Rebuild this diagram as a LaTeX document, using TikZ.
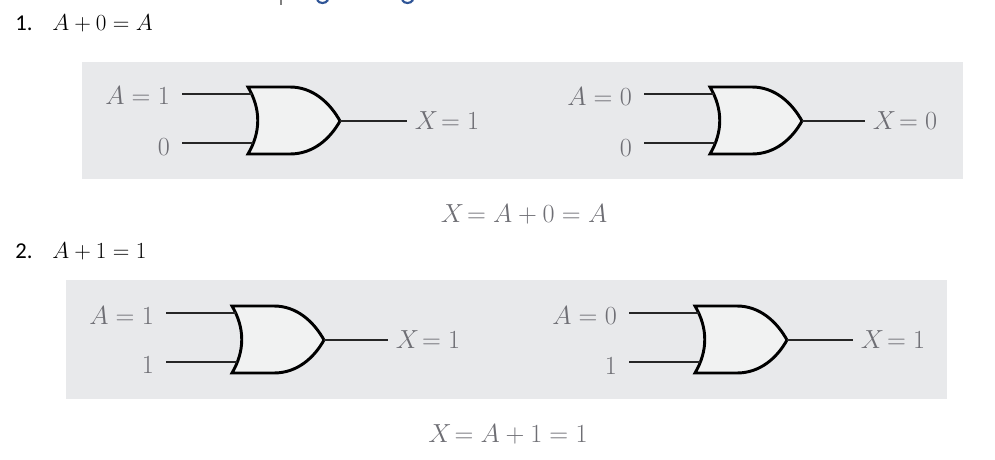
\documentclass[tikz,border=0pt]{standalone}
\usepackage{fontspec}
\setsansfont{Carlito}
\definecolor{panelgray}{HTML}{E8E9EB}
\definecolor{gatefill}{HTML}{F1F2F2}
\definecolor{labelgray}{HTML}{6E6E74}
\definecolor{wordblue}{HTML}{2F5597}
\tikzset{
  panel/.style={fill=panelgray,draw=none},
  lbl/.style={text=labelgray,font=\fontsize{20}{22}\selectfont,scale=.945,inner ysep=0pt,inner xsep=9.5pt},
  lblout/.style={lbl,inner xsep=6pt,anchor=west},
  heading/.style={text=black,font=\fontsize{16.5}{20}\selectfont,inner sep=0pt,anchor=base west},
  wire/.style={draw=black!85,line width=.85pt},
  orgate/.pic={
    \coordinate (in1) at (4,-27);
    \coordinate (in2) at (5,22);
    \coordinate (out) at (92,0);
    \draw[line width=2.2pt,fill=gatefill,line join=miter]
      (0,-34) -- (42,-34) .. controls (65,-34) and (82,-18) .. (92,0)
      .. controls (82,18) and (65,33) .. (42,33) -- (0,33)
      .. controls (13,11) and (13,-12) .. (0,-34) -- cycle;
  }
}
\begin{document}
\begin{tikzpicture}[x=.75pt,y=-.75pt]
  \useasboundingbox (0,0) rectangle (995,460);
  % bits of the line above
  \draw[gray,line width=.8pt] (281,0) -- (281,5);
  \draw[wordblue,line width=1.6pt] (317,0) .. controls (319,4) and (326,4) .. (328,0);
  \draw[wordblue,line width=1.6pt] (402,0) .. controls (404,4) and (411,4) .. (413,0);
  % panels
  \fill[panel] (82,62) rectangle (963,179);
  \fill[panel] (66,280) rectangle (947,399);
  % headings
  \node[heading,font=\sffamily\fontsize{17}{20}\selectfont] (h1) at (15,31) {1.};
  \node[heading] (f1) at (52,31) {$A+0=A$};
  \node[heading,font=\sffamily\fontsize{17}{20}\selectfont] (h2) at (15,258) {2.};
  \node[heading] (f2) at (52,258) {$A+1=1$};
  % gates
  \pic (ga) at (248,121) {orgate};
  \pic (gb) at (710,121) {orgate};
  \pic (gc) at (232,340) {orgate};
  \pic (gd) at (695,340) {orgate};
  % labels
  \node[lbl,anchor=east] (aa) at (182,96) {$A=1$};
  \node[lbl,anchor=east] (ab) at (182,147) {$0$};
  \node[lblout] (ax) at (407,121) {$X\!=1$};
  \node[lbl,anchor=east] (ba) at (644,97) {$A=0$};
  \node[lbl,anchor=east] (bb) at (644,148) {$0$};
  \node[lblout] (bx) at (865,121) {$X\!=0$};
  \node[lbl,anchor=east] (ca) at (166,316) {$A=1$};
  \node[lbl,anchor=east] (cb) at (166,365) {$1$};
  \node[lblout] (cx) at (388,340) {$X\!=1$};
  \node[lbl,anchor=east] (da) at (629,316) {$A=0$};
  \node[lbl,anchor=east] (db) at (629,366) {$1$};
  \node[lblout] (dx) at (853,340) {$X\!=1$};
  \node[lbl,inner xsep=0pt] (capa) at (524,214) {$X\!=A+0=A$};
  \node[lbl,inner xsep=0pt] (capb) at (508,434) {$X\!=A+1=1$};
  % wires
  \draw[wire] (aa.east |- gain1) -- (gain1);
  \draw[wire] (ab.east |- gain2) -- (gain2);
  \draw[wire] (gaout) -- (ax.west |- gaout);
  \draw[wire] (ba.east |- gbin1) -- (gbin1);
  \draw[wire] (bb.east |- gbin2) -- (gbin2);
  \draw[wire] (gbout) -- (bx.west |- gbout);
  \draw[wire] (ca.east |- gcin1) -- (gcin1);
  \draw[wire] (cb.east |- gcin2) -- (gcin2);
  \draw[wire] (gcout) -- (cx.west |- gcout);
  \draw[wire] (da.east |- gdin1) -- (gdin1);
  \draw[wire] (db.east |- gdin2) -- (gdin2);
  \draw[wire] (gdout) -- (dx.west |- gdout);
\end{tikzpicture}
\end{document}
